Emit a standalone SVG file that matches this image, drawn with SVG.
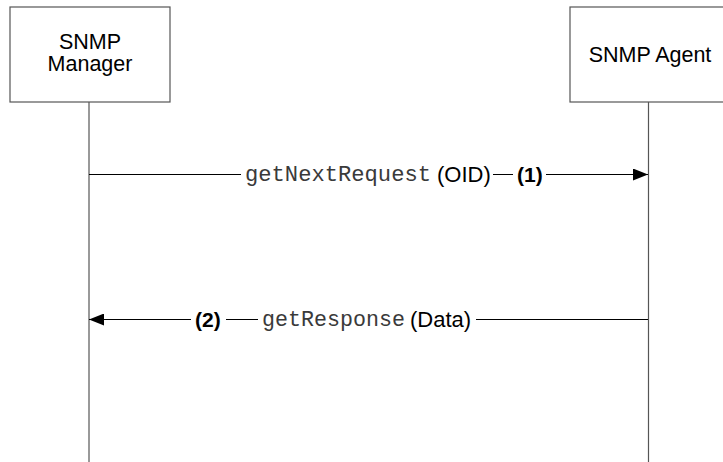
<svg xmlns="http://www.w3.org/2000/svg" width="723" height="462" viewBox="0 0 723 462">
<style>
.box{fill:#fff;stroke:#555;stroke-width:1.2}
.life{stroke:#555;stroke-width:1.2;fill:none}
.msg{stroke:#000;stroke-width:1;fill:none}
.sans{font-family:"Liberation Sans",Arial,sans-serif;font-size:21.5px;fill:#000}
.lbl{font-family:"Liberation Sans",Arial,sans-serif;font-size:22px;fill:#000}
.bold{font-family:"Liberation Sans",Arial,sans-serif;font-size:21px;font-weight:bold;fill:#000}
.mono{font-family:"Liberation Mono","Courier New",monospace;font-size:21.7px;fill:#3a3a3a}
.gap{fill:#fff}
</style>
<defs>
<marker id="ah" markerWidth="15" markerHeight="12" refX="15" refY="6" orient="auto" markerUnits="userSpaceOnUse">
<path d="M0,0 L15,6 L0,12 Z" fill="#000"/>
</marker>
</defs>
<rect width="723" height="462" fill="#fff"/>
<g id="manager">
<line class="life" x1="89" y1="102" x2="89" y2="462"/>
<rect class="box" x="10" y="7" width="160" height="95"/>
<text class="sans" x="90" y="49" text-anchor="middle">SNMP</text>
<text class="sans" x="90" y="71" text-anchor="middle">Manager</text>
</g>
<g id="agent">
<line class="life" x1="648.5" y1="102" x2="648.5" y2="462"/>
<rect class="box" x="570" y="7" width="158" height="95"/>
<text class="sans" x="650" y="62" text-anchor="middle">SNMP Agent</text>
</g>
<g id="connectors">
<g id="msg1">
<line class="msg" x1="89" y1="174.5" x2="648" y2="174.5" marker-end="url(#ah)"/>
<rect class="gap" x="241" y="164" width="252" height="22"/>
<rect class="gap" x="513" y="164" width="33" height="22"/>
<text class="mono" x="245" y="181" textLength="186" lengthAdjust="spacingAndGlyphs">getNextRequest</text>
<text class="lbl" x="437" y="182">(OID)</text>
<text class="bold" x="517" y="182">(1)</text>
</g>
<g id="msg2">
<line class="msg" x1="648" y1="319.5" x2="89" y2="319.5" marker-end="url(#ah)"/>
<rect class="gap" x="191" y="309" width="35" height="22"/>
<rect class="gap" x="258" y="309" width="218" height="22"/>
<text class="bold" x="195" y="327">(2)</text>
<text class="mono" x="262" y="326" textLength="143" lengthAdjust="spacingAndGlyphs">getResponse</text>
<text class="lbl" x="410" y="327">(Data)</text>
</g>
</g>
</svg>
